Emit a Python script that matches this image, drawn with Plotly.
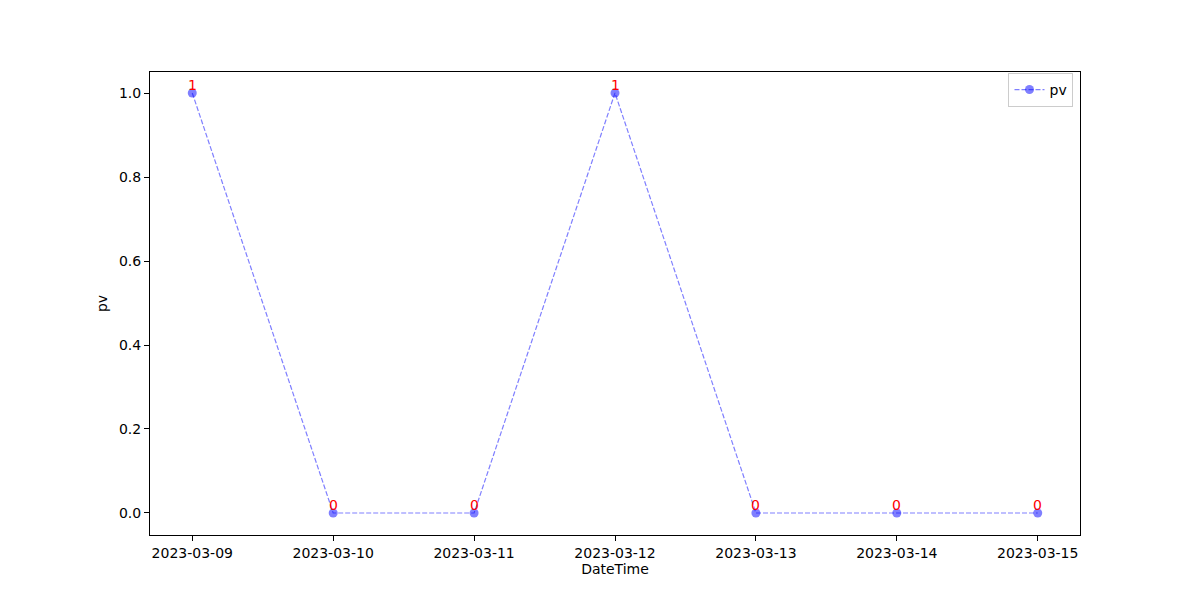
import plotly.graph_objects as go
import pandas as pd

dates = ["2023-03-09", "2023-03-10", "2023-03-11", "2023-03-12", "2023-03-13", "2023-03-14", "2023-03-15"]
pv = [1, 0, 0, 1, 0, 0, 0]
y_ticks = [0.0, 0.2, 0.4, 0.6, 0.8, 1.0]

x = pd.to_datetime(dates)
fnt = dict(family="DejaVu Sans", size=14, color="black")

fig = go.Figure()
fig.add_trace(go.Scatter(
    x=x, y=pv, mode="lines+markers", name="pv",
    line=dict(color="rgba(0,0,255,0.5)", width=1.2, dash="5px,2px"),
    marker=dict(color="rgba(0,0,255,0.5)", size=9),
))
for xi, yi in zip(x, pv):
    fig.add_annotation(x=xi, y=yi, text=str(yi), showarrow=False,
                       yanchor="bottom", xanchor="center", yshift=-2,
                       font=dict(family="DejaVu Sans", size=14, color="red"))

x0 = x[0] - pd.Timedelta(hours=0.3 * 24)
x1 = x[-1] + pd.Timedelta(hours=0.3 * 24)
fig.update_layout(
    width=1200, height=600,
    margin=dict(l=142, r=128, t=64, b=73),
    plot_bgcolor="white", paper_bgcolor="white",
    font=fnt,
    showlegend=True,
    legend=dict(x=0.993, y=0.998, xanchor="right", yanchor="top",
                bordercolor="#cccccc", borderwidth=1, bgcolor="white",
                font=fnt, tracegroupgap=0),
)
fig.update_xaxes(
    range=[x0, x1], tickvals=x, ticktext=dates,
    showgrid=False, zeroline=False,
    showline=True, linecolor="black", linewidth=1, mirror=True,
    ticks="outside", ticklen=5, tickcolor="black",
    title=dict(text="DateTime", font=fnt, standoff=4),
)
fig.update_yaxes(
    range=[-0.0524, 1.05], tickvals=y_ticks, ticktext=[f"{v:.1f}" for v in y_ticks],
    showgrid=False, zeroline=False,
    showline=True, linecolor="black", linewidth=1, mirror=True,
    ticks="outside", ticklen=5, tickcolor="black",
    title=dict(text="pv", font=fnt, standoff=8),
)
fig.write_html("out.html")
